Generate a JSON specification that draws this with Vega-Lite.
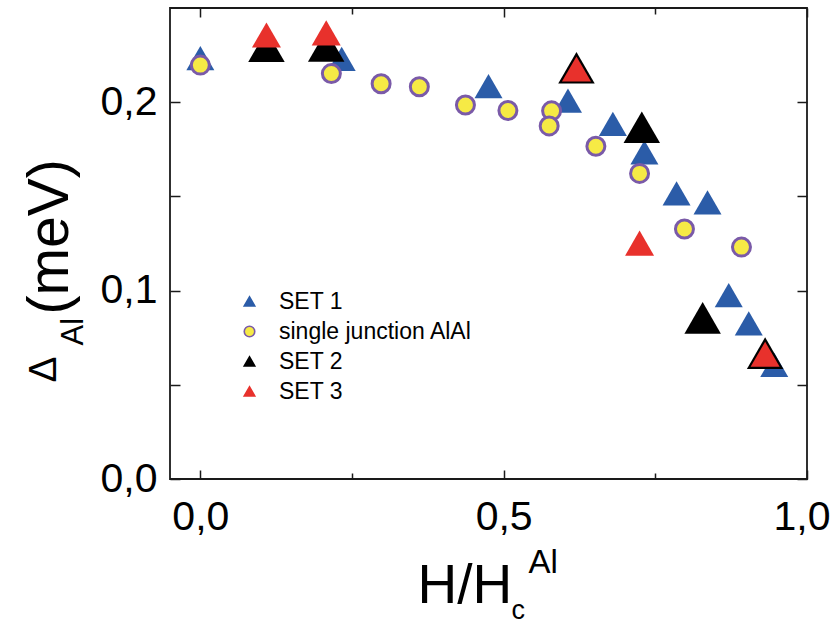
{
  "$schema": "https://vega.github.io/schema/vega-lite/v6.json",
  "width": 637,
  "height": 471,
  "autosize": {"type": "none"},
  "padding": {"left": 170, "top": 8, "right": 25, "bottom": 146},
  "background": "white",
  "config": {
    "font": "Liberation Sans",
    "view": {"stroke": "#1a1a1a", "strokeWidth": 1.8},
    "axis": {
      "grid": false,
      "domain": false,
      "tickColor": "#1a1a1a",
      "tickWidth": 1.5,
      "labelColor": "#000000",
      "titleColor": "#000000",
      "labelFont": "Liberation Sans",
      "titleFont": "Liberation Sans",
      "titleFontWeight": "normal",
      "labelFlush": false,
      "labelOverlap": false
    },
    "legend": {
      "orient": "none",
      "legendX": 68,
      "legendY": 282,
      "padding": 0,
      "labelFont": "Liberation Sans",
      "labelFontSize": 23,
      "labelColor": "#000000",
      "labelOffset": 18,
      "labelLimit": 0,
      "symbolSize": 110,
      "symbolStrokeWidth": 1.6,
      "rowPadding": 6
    }
  },
  "datasets": {
    "gap": [
      {"series": "SET 1", "h": 0.000, "delta": 0.2234},
      {"series": "SET 1", "h": 0.233, "delta": 0.2230},
      {"series": "SET 1", "h": 0.475, "delta": 0.2085},
      {"series": "SET 1", "h": 0.606, "delta": 0.2008},
      {"series": "SET 1", "h": 0.680, "delta": 0.1885},
      {"series": "SET 1", "h": 0.732, "delta": 0.1734},
      {"series": "SET 1", "h": 0.785, "delta": 0.1516},
      {"series": "SET 1", "h": 0.836, "delta": 0.1468},
      {"series": "SET 1", "h": 0.871, "delta": 0.0976},
      {"series": "SET 1", "h": 0.904, "delta": 0.0826},
      {"series": "SET 1", "h": 0.946, "delta": 0.0606},
      {"series": "single junction AlAl", "h": 0.000, "delta": 0.2197},
      {"series": "single junction AlAl", "h": 0.216, "delta": 0.2152},
      {"series": "single junction AlAl", "h": 0.298, "delta": 0.2098},
      {"series": "single junction AlAl", "h": 0.361, "delta": 0.2082},
      {"series": "single junction AlAl", "h": 0.437, "delta": 0.1985},
      {"series": "single junction AlAl", "h": 0.507, "delta": 0.1956},
      {"series": "single junction AlAl", "h": 0.579, "delta": 0.1954},
      {"series": "single junction AlAl", "h": 0.575, "delta": 0.1874},
      {"series": "single junction AlAl", "h": 0.652, "delta": 0.1766},
      {"series": "single junction AlAl", "h": 0.724, "delta": 0.1622},
      {"series": "single junction AlAl", "h": 0.798, "delta": 0.1327},
      {"series": "single junction AlAl", "h": 0.892, "delta": 0.1231},
      {"series": "SET 2", "h": 0.109, "delta": 0.2297},
      {"series": "SET 2", "h": 0.2075, "delta": 0.2298},
      {"series": "SET 2", "h": 0.620, "delta": 0.2183},
      {"series": "SET 2", "h": 0.7277, "delta": 0.1867},
      {"series": "SET 2", "h": 0.828, "delta": 0.0855},
      {"series": "SET 2", "h": 0.931, "delta": 0.0668},
      {"series": "SET 3", "h": 0.109, "delta": 0.2357},
      {"series": "SET 3", "h": 0.2075, "delta": 0.2368},
      {"series": "SET 3", "h": 0.620, "delta": 0.2176},
      {"series": "SET 3", "h": 0.724, "delta": 0.1252},
      {"series": "SET 3", "h": 0.931, "delta": 0.0662}
    ]
  },
  "data": {"name": "gap"},
  "encoding": {
    "fill": {
      "field": "series", "type": "nominal", "title": null,
      "scale": {
        "domain": ["SET 1", "single junction AlAl", "SET 2", "SET 3"],
        "range": ["#2b5ca8", "#f6ea45", "#000000", "#e8312c"]
      }
    },
    "stroke": {
      "field": "series", "type": "nominal", "title": null,
      "scale": {
        "domain": ["SET 1", "single junction AlAl", "SET 2", "SET 3"],
        "range": ["#2b5ca8", "#7a5aa8", "#000000", "#e8312c"]
      }
    },
    "shape": {
      "field": "series", "type": "nominal", "title": null,
      "scale": {
        "domain": ["SET 1", "single junction AlAl", "SET 2", "SET 3"],
        "range": ["triangle-up", "circle", "triangle-up", "triangle-up"]
      }
    }
  },
  "layer": [
    {
      "transform": [{"filter": "datum.series == 'SET 1'"}],
      "mark": {"type": "point", "filled": true, "size": 784, "strokeWidth": 0, "opacity": 1},
      "encoding": {
        "x": {
          "field": "h", "type": "quantitative",
          "scale": {"domain": [-0.05, 1.0], "nice": false, "zero": false},
          "axis": {
            "orient": "bottom",
            "values": [0, 0.25, 0.5, 0.75, 1.0],
            "tickSize": {"condition": {"test": "datum.value == 0.25 || datum.value == 0.75", "value": -6}, "value": -9},
            "labelPadding": 27,
            "labelFontSize": 41,
            "labelFlush": 1,
            "labelFlushOffset": 23,
            "labelExpr": "datum.value == 0.25 || datum.value == 0.75 ? '' : replace(format(datum.value, '.1f'), '.', ',')",
            "title": "H/H",
            "titleFontSize": 55,
            "titleX": 247,
            "titleY": 123,
            "titleAlign": "left",
            "titleBaseline": "alphabetic",
            "titleAngle": 0
          }
        },
        "y": {
          "field": "delta", "type": "quantitative",
          "scale": {"domain": [0, 0.25], "nice": false, "zero": false},
          "axis": {
            "orient": "left",
            "values": [0, 0.05, 0.1, 0.15, 0.2],
            "tickSize": -10,
            "labelPadding": 23,
            "labelFontSize": 41,
            "labelExpr": "round(datum.value * 100) % 10 == 0 ? replace(format(datum.value, '.1f'), '.', ',') : ''",
            "title": "(meV)",
            "titleFontSize": 57,
            "titleX": -103,
            "titleY": 306,
            "titleAlign": "left",
            "titleBaseline": "alphabetic",
            "titleAngle": -90
          }
        }
      }
    },
    {
      "transform": [{"filter": "datum.series == 'single junction AlAl'"}],
      "mark": {"type": "point", "filled": true, "size": 324, "strokeWidth": 3, "opacity": 1},
      "encoding": {
        "x": {
          "field": "h", "type": "quantitative",
          "axis": {
            "orient": "top",
            "values": [0, 0.25, 0.5, 0.75, 1.0],
            "tickSize": {"condition": {"test": "datum.value == 0.25 || datum.value == 0.75", "value": -6}, "value": -9},
            "labels": false,
            "title": "c",
            "titleFontSize": 27,
            "titleX": 341,
            "titleY": 610,
            "titleAlign": "left",
            "titleBaseline": "alphabetic",
            "titleAngle": 0
          }
        },
        "y": {
          "field": "delta", "type": "quantitative",
          "axis": {
            "orient": "right",
            "values": [0, 0.05, 0.1, 0.15, 0.2],
            "tickSize": -10,
            "labels": false,
            "title": "Al",
            "titleFontSize": 31,
            "titleX": -725,
            "titleY": 337,
            "titleAlign": "left",
            "titleBaseline": "alphabetic",
            "titleAngle": -90
          }
        }
      }
    },
    {
      "transform": [{"filter": "datum.series == 'SET 2'"}],
      "mark": {"type": "point", "filled": true, "size": 1332, "strokeWidth": 0, "opacity": 1},
      "encoding": {
        "x": {
          "field": "h", "type": "quantitative",
          "axis": {
            "orient": "bottom",
            "ticks": false,
            "labels": false,
            "title": "Al",
            "titleFontSize": 33,
            "titleX": 358,
            "titleY": 93,
            "titleAlign": "left",
            "titleBaseline": "alphabetic",
            "titleAngle": 0
          }
        },
        "y": {
          "field": "delta", "type": "quantitative",
          "axis": {
            "orient": "left",
            "ticks": false,
            "labels": false,
            "title": "Δ",
            "titleFontSize": 39,
            "titleX": -115,
            "titleY": 374,
            "titleAlign": "left",
            "titleBaseline": "alphabetic",
            "titleAngle": -90
          }
        }
      }
    },
    {
      "transform": [{"filter": "datum.series == 'SET 3'"}],
      "mark": {"type": "point", "filled": true, "size": 841, "strokeWidth": 0, "opacity": 1},
      "encoding": {
        "x": {"field": "h", "type": "quantitative", "axis": null},
        "y": {"field": "delta", "type": "quantitative", "axis": null}
      }
    }
  ],
  "resolve": {"axis": {"x": "independent", "y": "independent"}}
}
